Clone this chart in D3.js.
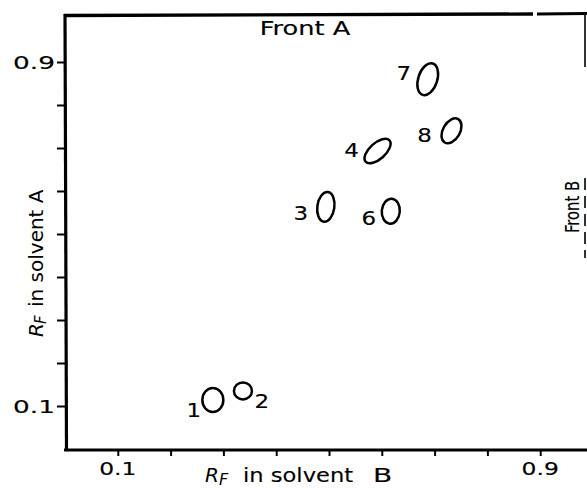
<!DOCTYPE html>
<html>
<head>
<meta charset="utf-8">
<script src="https://cdn.jsdelivr.net/npm/d3@7"></script>
<style>
  html, body { margin: 0; padding: 0; background: #fff; }
  svg { display: block; font-family: "DejaVu Sans", sans-serif; }
</style>
</head>
<body>
<svg id="chart" width="587" height="488"></svg>
<script>
// spot numbers and their Rf values
const spotIds = ["1", "2", "3", "4", "6", "7", "8"];
const rfB = [0.280, 0.337, 0.494, 0.592, 0.617, 0.687, 0.732];
const rfA = [0.114, 0.135, 0.563, 0.693, 0.553, 0.860, 0.740];

// axis ticks
const tickValues = [0.1, 0.2, 0.3, 0.4, 0.5, 0.6, 0.7, 0.8, 0.9];
const labeledTicks = [0.1, 0.9];
const tickLabels = ["0.1", "0.9"];

// drawing of each spot: outline size, tilt and where its number sits
const spotShape = {
  "1": { rx: 10.5, ry: 12, rot: 0, lx: -19, ly: 10 },
  "2": { rx: 9, ry: 8.5, rot: 0, lx: 19, ly: 10 },
  "3": { rx: 8.5, ry: 15, rot: 8, lx: -25, ly: 6 },
  "4": { rx: 16, ry: 8, rot: -42, lx: -26, ly: -1 },
  "6": { rx: 9, ry: 12.5, rot: 5, lx: -22, ly: 7 },
  "7": { rx: 9.5, ry: 16.5, rot: 18, lx: -24, ly: -6 },
  "8": { rx: 8.5, ry: 13.5, rot: 30, lx: -27, ly: 4 },
};

const svg = d3.select("#chart");

const x = d3.scaleLinear().domain([0, 1]).range([65, 593]);
const y = d3.scaleLinear().domain([0, 1]).range([449, 19]);

const spots = spotIds.map((id, i) => ({ id: id, b: rfB[i], a: rfA[i] }));

// stretched text, the lettering on the original is very wide
function wideText(parent, tx, ty, str, size, sx, anchor, rotate) {
  const g = parent
    .append("g")
    .attr("transform", `translate(${tx},${ty}) rotate(${rotate || 0}) scale(${sx},1)`);
  g.append("text")
    .attr("text-anchor", anchor || "middle")
    .style("font-size", size + "px")
    .attr("fill", "#000")
    .attr("stroke", "#000")
    .attr("stroke-width", 0.15)
    .text(str);
  return g;
}

// Axes (ticks only, labels drawn by hand below)
const xAxis = svg
  .append("g")
  .attr("transform", "translate(0,450)")
  .call(d3.axisBottom(x).tickValues(tickValues).tickSize(6).tickFormat(""));
xAxis.select(".domain").remove();
xAxis.selectAll(".tick line").attr("stroke", "#000").attr("stroke-width", 2);

const yAxis = svg
  .append("g")
  .attr("transform", "translate(65,0)")
  .call(d3.axisLeft(y).tickValues(tickValues).tickSize(8).tickFormat(""));
yAxis.select(".domain").remove();
yAxis.selectAll(".tick line").attr("stroke", "#000").attr("stroke-width", 2);

// frame
const frame = svg.append("g").attr("stroke", "#000").attr("fill", "none");
frame.append("line").attr("x1", 65).attr("x2", 66.5).attr("y1", 14).attr("y2", 451).attr("stroke-width", 3.2);
frame.append("line").attr("x1", 64).attr("x2", 587).attr("y1", 450).attr("y2", 450).attr("stroke-width", 3);
frame.append("line").attr("x1", 64).attr("x2", 533).attr("y1", 15.5).attr("y2", 14).attr("stroke-width", 3.4);
frame.append("line").attr("x1", 537).attr("x2", 587).attr("y1", 14).attr("y2", 13.5).attr("stroke-width", 3);
frame.append("line").attr("x1", 585).attr("x2", 585).attr("y1", 13).attr("y2", 67).attr("stroke-width", 1.6);
frame.append("line").attr("x1", 585).attr("x2", 585).attr("y1", 178).attr("y2", 258)
  .attr("stroke-width", 1.6).attr("stroke-dasharray", "12,6");

// tick labels
labeledTicks.forEach((v, i) => {
  wideText(svg, 55, y(v) + 6.5, tickLabels[i], 17, 1.55, "end");
  wideText(svg, x(v), 475, tickLabels[i], 18, 1.3, "middle");
});

// fronts
wideText(svg, 305, 35, "Front A", 19, 1.35, "middle");
wideText(svg, 579, 207, "Front B", 20, 0.74, "middle", -90);

// x title
const xt = svg.append("g").attr("transform", "translate(205,482)");
xt.append("text").style("font-size", "20px").style("font-style", "italic").text("R");
xt.append("text").attr("x", 14).attr("y", 3).style("font-size", "16px").style("font-style", "italic").text("F");
wideText(xt, 38, 0, "in solvent", 20, 1.13, "start");
wideText(xt, 168, 0, "B", 20, 1.4, "start");

// y title
const yt = svg.append("g").attr("transform", "translate(43,337) rotate(-90)");
yt.append("text").style("font-size", "20px").style("font-style", "italic").text("R");
yt.append("text").attr("x", 13).attr("y", 3).style("font-size", "15px").style("font-style", "italic").text("F");
yt.append("text").attr("x", 30).style("font-size", "20px").text("in solvent A");

// spots
const spotG = svg
  .selectAll(".spot")
  .data(spots)
  .enter()
  .append("g")
  .attr("class", "spot")
  .attr("transform", (d) => `translate(${x(d.b)},${y(d.a)})`);

spotG
  .append("ellipse")
  .attr("rx", (d) => spotShape[d.id].rx)
  .attr("ry", (d) => spotShape[d.id].ry)
  .attr("transform", (d) => `rotate(${spotShape[d.id].rot})`)
  .attr("fill", "none")
  .attr("stroke", "#000")
  .attr("stroke-width", 2.5);

spotG.each(function (d) {
  const s = spotShape[d.id];
  wideText(d3.select(this), s.lx, s.ly + 7, d.id, 20, 1.15, "middle");
});
</script>
</body>
</html>
